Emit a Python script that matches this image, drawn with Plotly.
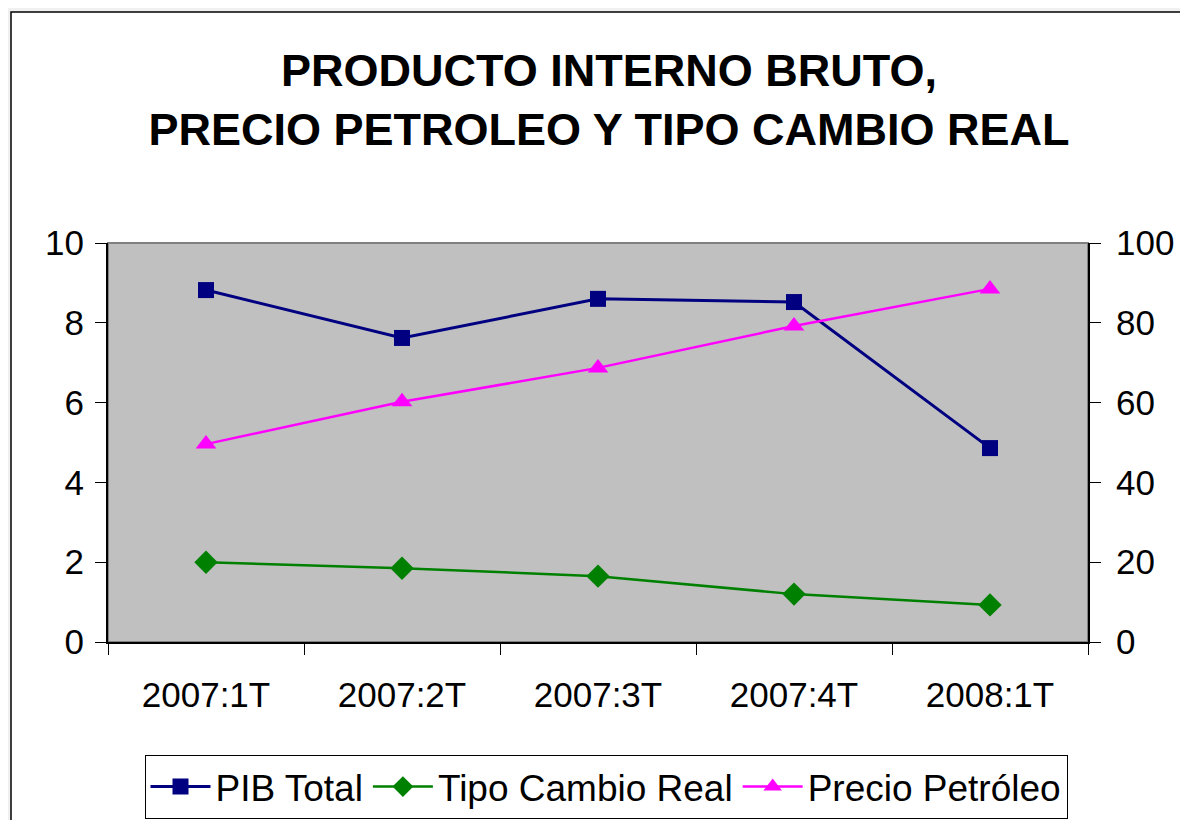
import plotly.graph_objects as go

categories = ["2007:1T", "2007:2T", "2007:3T", "2007:4T", "2008:1T"]
pib_total = [8.82, 7.62, 8.6, 8.52, 4.86]
tipo_cambio_real = [2.0, 1.85, 1.65, 1.2, 0.93]
precio_petroleo = [49.6, 60.2, 68.7, 79.2, 88.5]
left_ticks = [0, 2, 4, 6, 8, 10]
right_ticks = [0, 20, 40, 60, 80, 100]

FONT = "Liberation Sans, Arial, sans-serif"
OFF = 8  # page body margin
W, H = 1188 - 2 * OFF, 828 - 2 * OFF
L, T = 108 - OFF, 243 - OFF
R = W - (1088 - OFF)
B = H - (642 - OFF)
pw, ph = W - L - R, H - T - B

def px_x(x):  # screenshot pixels -> paper
    return (x - OFF - L) / pw

def px_y(y):
    return (H - B - (y - OFF)) / ph

def cx(x):  # screenshot pixels -> container
    return (x - OFF) / W

def cy(y):
    return 1 - (y - OFF) / H

fig = go.Figure()
fig.add_trace(go.Scatter(x=categories, y=pib_total, name="PIB Total", mode="lines+markers",
                         line=dict(color="#000080", width=3),
                         marker=dict(symbol="square", size=16, color="#000080")))
fig.add_trace(go.Scatter(x=categories, y=tipo_cambio_real, name="Tipo Cambio Real", mode="lines+markers",
                         line=dict(color="#008000", width=2.5),
                         marker=dict(symbol="diamond", size=18, color="#008000")))
fig.add_trace(go.Scatter(x=categories, y=precio_petroleo, name="Precio Petróleo", mode="lines+markers",
                         yaxis="y2",
                         line=dict(color="#FF00FF", width=2.5),
                         marker=dict(symbol="triangle-up", size=18, color="#FF00FF")))

tickfont = dict(family=FONT, size=35, color="black")
n = len(categories)
boundaries = [i - 0.5 for i in range(n + 1)]

fig.update_layout(
    width=W, height=H,
    margin=dict(l=L, r=R, t=T, b=B, autoexpand=False),
    paper_bgcolor="#F0F0F0",
    plot_bgcolor="#C0C0C0",
    showlegend=True,
    title=dict(text="PRODUCTO INTERNO BRUTO,<br>PRECIO PETROLEO Y TIPO CAMBIO REAL",
               x=cx(609), xanchor="center", y=cy(86), yanchor="middle",
               font=dict(family=FONT, size=45, color="black", weight="bold")),
    xaxis=dict(type="category", categoryorder="array", categoryarray=categories,
               range=[-0.5, n - 0.5], tickson="boundaries", ticks="outside", ticklen=11,
               tickcolor="black", tickwidth=1, showline=True, linecolor="black", linewidth=1.5,
               showgrid=False, zeroline=False, tickfont=tickfont, ticklabelstandoff=21),
    xaxis2=dict(overlaying="x", side="bottom", range=[-0.5, n - 0.5], tickmode="array",
                tickvals=boundaries, ticks="inside", ticklen=11, tickcolor="black",
                showticklabels=False, showgrid=False, zeroline=False, showline=False),
    yaxis=dict(range=[0, 10], tickvals=left_ticks, ticks="outside", ticklen=11,
               tickcolor="black", showline=True, linecolor="black", linewidth=2,
               showgrid=False, zeroline=False, tickfont=tickfont, ticklabelstandoff=4),
    yaxis2=dict(range=[0, 100], tickvals=right_ticks, overlaying="y", side="right",
                ticks="outside", ticklen=11, tickcolor="black", showline=True,
                linecolor="black", linewidth=2, showgrid=False, zeroline=False,
                tickfont=tickfont, ticklabelstandoff=8),
    yaxis3=dict(range=[0, 10], tickvals=left_ticks, overlaying="y", side="left",
                ticks="inside", ticklen=11, tickcolor="black", showticklabels=False,
                showgrid=False, zeroline=False, showline=False),
    yaxis4=dict(range=[0, 100], tickvals=right_ticks, overlaying="y", side="right",
                ticks="inside", ticklen=11, tickcolor="black", showticklabels=False,
                showgrid=False, zeroline=False, showline=False),
    legend=dict(orientation="h", xref="container", yref="container",
                x=cx(606), xanchor="center", y=cy(819), yanchor="bottom",
                bgcolor="white", bordercolor="black", borderwidth=1,
                font=dict(family=FONT, size=37, color="black"),
                itemwidth=60, tracegroupgap=0),
    shapes=[
        dict(type="rect", xref="paper", yref="paper", layer="below",
             x0=px_x(11), x1=px_x(1240), y0=px_y(900), y1=px_y(12),
             fillcolor="white", line=dict(color="black", width=1.5)),
        dict(type="rect", xref="paper", yref="paper", layer="below",
             x0=0, x1=1, y0=0, y1=1, fillcolor="#C0C0C0",
             line=dict(color="#808080", width=2)),
    ],
)

fig.write_html("out.html")
